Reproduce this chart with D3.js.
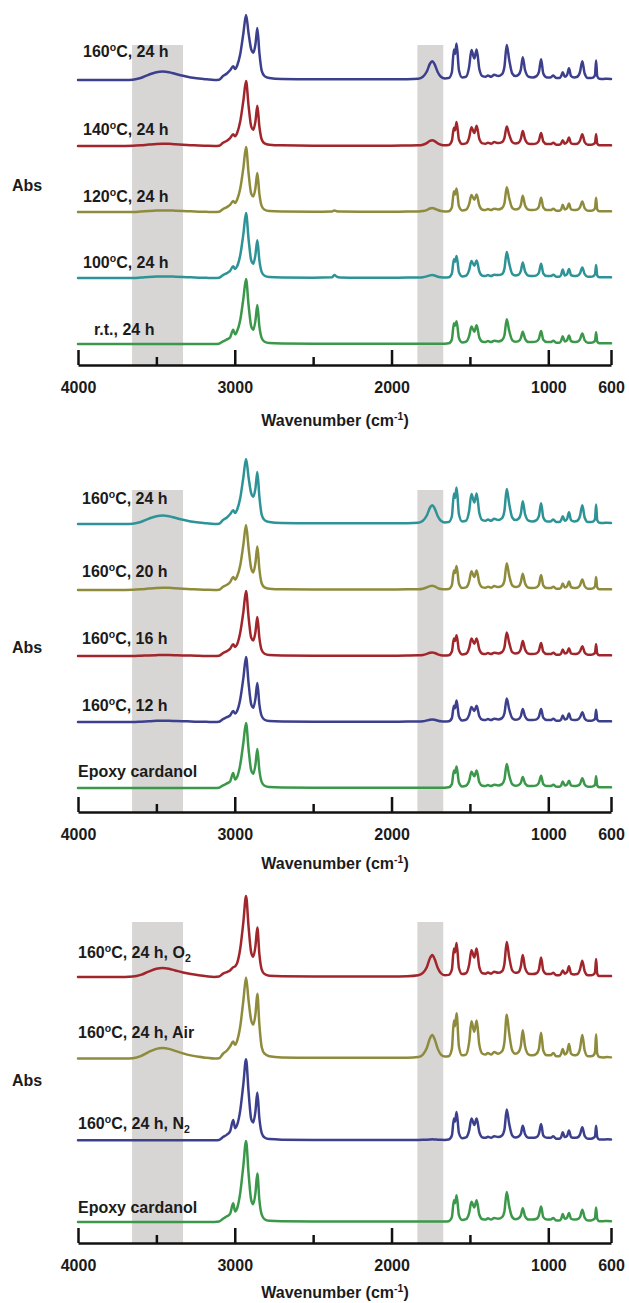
<!DOCTYPE html>
<html>
<head>
<meta charset="utf-8">
<script src="https://cdn.jsdelivr.net/npm/d3@7"></script>
<style>
  html, body { margin: 0; padding: 0; background: #ffffff; }
  svg text { font-family: "Liberation Sans", Arial, Helvetica, sans-serif; font-weight: bold; fill: #1b1b1b; }
</style>
</head>
<body>
<svg id="chart" width="629" height="1303"></svg>
<script>
// FTIR spectra of epoxy cardanol after heat treatment (stacked, offset traces)

// Wavenumber grid (cm-1) shared by every spectrum
const wavenumber = [
  4000, 3850, 3700, 3650, 3600, 3550, 3500, 3460, 3420, 3380,
  3330, 3280, 3230, 3180, 3130, 3100, 3075, 3050, 3030, 3010,
  2998, 2985, 2965, 2945, 2928, 2912, 2895, 2882, 2868, 2856,
  2843, 2828, 2810, 2780, 2700, 2500, 2380, 2365, 2350, 2330,
  2200, 2000, 1900, 1830, 1800, 1775, 1755, 1740, 1725, 1705,
  1685, 1660, 1635, 1615, 1602, 1595, 1585, 1570, 1550, 1525,
  1505, 1490, 1472, 1457, 1440, 1420, 1400, 1385, 1365, 1345,
  1320, 1295, 1280, 1265, 1250, 1230, 1210, 1190, 1175, 1163,
  1148, 1125, 1100, 1075, 1060, 1046, 1032, 1010, 985, 968,
  950, 930, 918, 908, 895, 880, 868, 855, 835, 815,
  798, 783, 768, 748, 728, 712, 702, 695, 688, 675,
  650, 625, 600
];

// Relative absorbance (C-H stretch at 2928 cm-1 = 1)
const abs160C24h = [
  0, 0, 0, 0.005, 0.03, 0.08, 0.12, 0.13, 0.12, 0.095,
  0.065, 0.04, 0.022, 0.01, 0, 0.005, 0.06, 0.1, 0.15, 0.21,
  0.17, 0.22, 0.4, 0.72, 1.0, 0.72, 0.47, 0.42, 0.55, 0.8,
  0.42, 0.14, 0.06, 0.03, 0.015, 0.01, 0.01, 0.01, 0.01, 0.01,
  0.01, 0.01, 0.012, 0.02, 0.05, 0.13, 0.25, 0.29, 0.24, 0.12,
  0.05, 0.025, 0.03, 0.12, 0.47, 0.4, 0.56, 0.15, 0.04, 0.05,
  0.2, 0.46, 0.33, 0.47, 0.17, 0.06, 0.05, 0.07, 0.05, 0.08,
  0.06, 0.09, 0.2, 0.54, 0.32, 0.1, 0.06, 0.08, 0.16, 0.35,
  0.15, 0.05, 0.04, 0.06, 0.12, 0.32, 0.1, 0.04, 0.04, 0.07,
  0.03, 0.03, 0.06, 0.12, 0.05, 0.08, 0.18, 0.06, 0.04, 0.05,
  0.12, 0.29, 0.1, 0.03, 0.03, 0.04, 0.08, 0.3, 0.06, 0.02,
  0.015, 0.02, 0.015
];

const abs140C24h = [
  0, 0, 0, 0.002, 0.01, 0.022, 0.032, 0.035, 0.033, 0.028,
  0.02, 0.013, 0.007, 0.003, 0, 0.005, 0.05, 0.08, 0.12, 0.18,
  0.15, 0.2, 0.38, 0.7, 1.0, 0.62, 0.3, 0.25, 0.38, 0.62,
  0.3, 0.1, 0.04, 0.02, 0.01, 0.005, 0.005, 0.005, 0.005, 0.005,
  0.005, 0.005, 0.008, 0.01, 0.02, 0.045, 0.08, 0.09, 0.075, 0.04,
  0.02, 0.01, 0.015, 0.08, 0.28, 0.24, 0.37, 0.1, 0.03, 0.04,
  0.13, 0.29, 0.2, 0.31, 0.11, 0.04, 0.035, 0.05, 0.035, 0.06,
  0.045, 0.06, 0.12, 0.3, 0.18, 0.06, 0.04, 0.05, 0.11, 0.23,
  0.1, 0.035, 0.03, 0.04, 0.08, 0.2, 0.07, 0.03, 0.03, 0.05,
  0.02, 0.02, 0.04, 0.09, 0.035, 0.06, 0.13, 0.04, 0.03, 0.035,
  0.08, 0.18, 0.06, 0.02, 0.02, 0.03, 0.05, 0.18, 0.04, 0.01,
  0.01, 0.012, 0.01
];

const abs120C24h = [
  0, 0, 0, 0, 0.007, 0.016, 0.023, 0.025, 0.024, 0.02,
  0.015, 0.01, 0.005, 0.002, 0, 0.005, 0.045, 0.075, 0.11, 0.17,
  0.14, 0.19, 0.36, 0.68, 1.0, 0.6, 0.28, 0.24, 0.37, 0.6,
  0.28, 0.09, 0.035, 0.015, 0.008, 0.005, 0.008, 0.025, 0.012, 0.006,
  0.005, 0.005, 0.006, 0.008, 0.015, 0.03, 0.055, 0.06, 0.05, 0.03,
  0.015, 0.008, 0.012, 0.07, 0.32, 0.27, 0.36, 0.09, 0.025, 0.035,
  0.12, 0.26, 0.19, 0.27, 0.1, 0.035, 0.03, 0.045, 0.03, 0.05,
  0.04, 0.06, 0.13, 0.38, 0.22, 0.065, 0.04, 0.05, 0.11, 0.25,
  0.1, 0.035, 0.03, 0.04, 0.08, 0.22, 0.07, 0.03, 0.03, 0.05,
  0.02, 0.02, 0.04, 0.11, 0.04, 0.06, 0.13, 0.04, 0.03, 0.035,
  0.07, 0.16, 0.06, 0.02, 0.02, 0.03, 0.06, 0.22, 0.04, 0.01,
  0.01, 0.012, 0.01
];

const abs100C24h = [
  0, 0, 0, 0, 0.006, 0.015, 0.022, 0.025, 0.024, 0.02,
  0.015, 0.01, 0.005, 0.002, 0, 0.005, 0.045, 0.075, 0.11, 0.18,
  0.14, 0.18, 0.35, 0.68, 1.0, 0.6, 0.27, 0.22, 0.36, 0.58,
  0.27, 0.09, 0.035, 0.015, 0.008, 0.005, 0.01, 0.045, 0.02, 0.008,
  0.005, 0.005, 0.006, 0.008, 0.012, 0.025, 0.04, 0.045, 0.038, 0.02,
  0.012, 0.008, 0.012, 0.07, 0.29, 0.25, 0.34, 0.09, 0.025, 0.035,
  0.12, 0.26, 0.19, 0.27, 0.1, 0.035, 0.03, 0.045, 0.03, 0.05,
  0.045, 0.06, 0.14, 0.4, 0.23, 0.065, 0.04, 0.05, 0.11, 0.24,
  0.1, 0.035, 0.03, 0.04, 0.08, 0.22, 0.07, 0.03, 0.03, 0.05,
  0.02, 0.02, 0.05, 0.13, 0.04, 0.06, 0.14, 0.045, 0.03, 0.035,
  0.07, 0.16, 0.06, 0.02, 0.02, 0.03, 0.06, 0.2, 0.04, 0.01,
  0.01, 0.012, 0.01
];

const absRoomTemp24h = [
  0, 0, 0, 0, 0, 0, 0, 0, 0, 0,
  0, 0, 0, 0, 0, 0.005, 0.04, 0.07, 0.1, 0.22,
  0.15, 0.2, 0.37, 0.7, 1.0, 0.6, 0.27, 0.22, 0.36, 0.6,
  0.27, 0.09, 0.035, 0.015, 0.008, 0.005, 0.005, 0.005, 0.005, 0.005,
  0.005, 0.005, 0.005, 0.005, 0.005, 0.005, 0.005, 0.005, 0.005, 0.005,
  0.005, 0.005, 0.01, 0.07, 0.32, 0.28, 0.35, 0.09, 0.025, 0.035,
  0.12, 0.27, 0.19, 0.29, 0.1, 0.035, 0.03, 0.045, 0.03, 0.05,
  0.04, 0.06, 0.13, 0.38, 0.21, 0.06, 0.035, 0.045, 0.09, 0.19,
  0.08, 0.03, 0.03, 0.04, 0.08, 0.2, 0.065, 0.03, 0.03, 0.05,
  0.02, 0.02, 0.05, 0.12, 0.04, 0.06, 0.13, 0.045, 0.03, 0.035,
  0.07, 0.16, 0.06, 0.02, 0.02, 0.03, 0.05, 0.18, 0.04, 0.01,
  0.01, 0.012, 0.01
];

const abs160C20h = [
  0, 0, 0, 0.002, 0.01, 0.022, 0.032, 0.035, 0.033, 0.028,
  0.02, 0.013, 0.007, 0.003, 0, 0.005, 0.05, 0.08, 0.12, 0.2,
  0.16, 0.21, 0.38, 0.7, 1.0, 0.65, 0.33, 0.27, 0.42, 0.67,
  0.32, 0.1, 0.04, 0.02, 0.01, 0.008, 0.008, 0.008, 0.008, 0.008,
  0.008, 0.008, 0.01, 0.012, 0.02, 0.04, 0.06, 0.065, 0.055, 0.03,
  0.015, 0.01, 0.015, 0.075, 0.3, 0.26, 0.37, 0.1, 0.03, 0.04,
  0.13, 0.29, 0.2, 0.3, 0.11, 0.04, 0.035, 0.05, 0.035, 0.06,
  0.045, 0.065, 0.14, 0.41, 0.23, 0.07, 0.045, 0.055, 0.12, 0.25,
  0.1, 0.035, 0.03, 0.04, 0.08, 0.23, 0.07, 0.03, 0.03, 0.05,
  0.02, 0.02, 0.04, 0.1, 0.04, 0.06, 0.13, 0.045, 0.03, 0.035,
  0.07, 0.16, 0.06, 0.02, 0.02, 0.03, 0.06, 0.2, 0.04, 0.01,
  0.01, 0.012, 0.01
];

const abs160C16h = [
  0, 0, 0, 0, 0.004, 0.009, 0.013, 0.015, 0.014, 0.012,
  0.009, 0.006, 0.003, 0.001, 0, 0.005, 0.045, 0.075, 0.11, 0.18,
  0.14, 0.18, 0.36, 0.68, 1.0, 0.6, 0.28, 0.24, 0.37, 0.6,
  0.28, 0.09, 0.035, 0.015, 0.008, 0.005, 0.005, 0.005, 0.005, 0.005,
  0.005, 0.005, 0.007, 0.01, 0.016, 0.032, 0.05, 0.055, 0.047, 0.026,
  0.013, 0.008, 0.012, 0.07, 0.27, 0.23, 0.32, 0.09, 0.025, 0.035,
  0.12, 0.27, 0.19, 0.27, 0.1, 0.035, 0.03, 0.045, 0.03, 0.05,
  0.04, 0.06, 0.13, 0.36, 0.21, 0.06, 0.04, 0.05, 0.11, 0.23,
  0.1, 0.035, 0.03, 0.04, 0.08, 0.2, 0.065, 0.03, 0.03, 0.05,
  0.02, 0.02, 0.04, 0.1, 0.04, 0.055, 0.12, 0.04, 0.03, 0.035,
  0.07, 0.15, 0.055, 0.02, 0.02, 0.03, 0.05, 0.18, 0.04, 0.01,
  0.01, 0.012, 0.01
];

const abs160C12h = [
  0, 0, 0, 0, 0.005, 0.012, 0.018, 0.02, 0.019, 0.016,
  0.012, 0.008, 0.004, 0.002, 0, 0.005, 0.045, 0.075, 0.1, 0.17,
  0.13, 0.17, 0.35, 0.68, 1.0, 0.6, 0.27, 0.22, 0.36, 0.6,
  0.27, 0.09, 0.035, 0.015, 0.008, 0.005, 0.005, 0.005, 0.005, 0.005,
  0.005, 0.005, 0.006, 0.008, 0.012, 0.024, 0.036, 0.04, 0.034, 0.02,
  0.01, 0.007, 0.01, 0.06, 0.25, 0.21, 0.33, 0.085, 0.025, 0.035,
  0.11, 0.23, 0.17, 0.25, 0.09, 0.035, 0.03, 0.045, 0.03, 0.05,
  0.04, 0.06, 0.13, 0.36, 0.2, 0.06, 0.035, 0.045, 0.09, 0.2,
  0.085, 0.03, 0.03, 0.04, 0.08, 0.2, 0.065, 0.03, 0.03, 0.05,
  0.02, 0.02, 0.04, 0.1, 0.04, 0.055, 0.13, 0.04, 0.03, 0.035,
  0.07, 0.15, 0.055, 0.02, 0.02, 0.03, 0.05, 0.19, 0.04, 0.01,
  0.01, 0.012, 0.01
];

const absEpoxyCardanol = [
  0, 0, 0, 0, 0, 0, 0, 0, 0, 0,
  0, 0, 0, 0, 0, 0.005, 0.04, 0.07, 0.1, 0.23,
  0.13, 0.17, 0.36, 0.7, 1.0, 0.6, 0.27, 0.22, 0.36, 0.6,
  0.27, 0.09, 0.035, 0.015, 0.008, 0.005, 0.005, 0.005, 0.005, 0.005,
  0.005, 0.005, 0.005, 0.005, 0.005, 0.005, 0.005, 0.005, 0.005, 0.005,
  0.005, 0.005, 0.01, 0.06, 0.27, 0.23, 0.33, 0.085, 0.025, 0.035,
  0.11, 0.25, 0.18, 0.27, 0.09, 0.035, 0.03, 0.045, 0.03, 0.05,
  0.04, 0.06, 0.13, 0.37, 0.2, 0.06, 0.035, 0.045, 0.08, 0.17,
  0.07, 0.03, 0.03, 0.04, 0.08, 0.19, 0.06, 0.03, 0.03, 0.05,
  0.02, 0.02, 0.04, 0.1, 0.04, 0.055, 0.11, 0.04, 0.03, 0.035,
  0.06, 0.15, 0.055, 0.02, 0.02, 0.03, 0.05, 0.18, 0.04, 0.01,
  0.01, 0.012, 0.01
];

const abs160C24hO2 = [
  0, 0, 0, 0.004, 0.025, 0.065, 0.1, 0.11, 0.1, 0.08,
  0.055, 0.035, 0.02, 0.008, 0, 0.005, 0.04, 0.06, 0.08, 0.12,
  0.13, 0.17, 0.35, 0.68, 1.0, 0.62, 0.3, 0.25, 0.38, 0.61,
  0.28, 0.09, 0.035, 0.015, 0.008, 0.005, 0.005, 0.005, 0.005, 0.005,
  0.005, 0.005, 0.008, 0.02, 0.05, 0.12, 0.23, 0.27, 0.22, 0.11,
  0.045, 0.02, 0.025, 0.09, 0.35, 0.3, 0.42, 0.11, 0.035, 0.045,
  0.15, 0.33, 0.24, 0.35, 0.12, 0.045, 0.04, 0.055, 0.04, 0.065,
  0.05, 0.07, 0.16, 0.43, 0.25, 0.08, 0.05, 0.06, 0.13, 0.27,
  0.11, 0.04, 0.035, 0.045, 0.09, 0.24, 0.08, 0.035, 0.035, 0.05,
  0.02, 0.02, 0.04, 0.08, 0.04, 0.06, 0.13, 0.04, 0.03, 0.035,
  0.09, 0.2, 0.07, 0.02, 0.02, 0.03, 0.06, 0.22, 0.04, 0.01,
  0.01, 0.012, 0.01
];

const abs160C24hN2 = [
  0, 0, 0, 0, 0, 0, 0, 0, 0, 0,
  0, 0, 0, 0, 0, 0.005, 0.04, 0.07, 0.11, 0.25,
  0.15, 0.19, 0.37, 0.7, 1.0, 0.6, 0.26, 0.22, 0.36, 0.59,
  0.27, 0.09, 0.035, 0.015, 0.008, 0.005, 0.005, 0.005, 0.005, 0.005,
  0.005, 0.005, 0.005, 0.005, 0.006, 0.008, 0.01, 0.012, 0.01, 0.008,
  0.006, 0.005, 0.01, 0.06, 0.27, 0.23, 0.35, 0.09, 0.025, 0.035,
  0.12, 0.27, 0.19, 0.27, 0.1, 0.035, 0.03, 0.045, 0.03, 0.05,
  0.04, 0.06, 0.13, 0.38, 0.21, 0.06, 0.035, 0.045, 0.08, 0.18,
  0.075, 0.03, 0.03, 0.04, 0.08, 0.2, 0.06, 0.03, 0.03, 0.05,
  0.02, 0.02, 0.04, 0.1, 0.04, 0.055, 0.12, 0.04, 0.03, 0.035,
  0.07, 0.16, 0.055, 0.02, 0.02, 0.03, 0.05, 0.18, 0.04, 0.01,
  0.01, 0.012, 0.01
];

// Shaded regions: O-H stretch and C=O stretch (cm-1)
const bandRanges = [[3655, 3330], [1835, 1670]];

// Axis ticks (cm-1)
const majorTicks = [4000, 3000, 2000, 1000, 600];
const minorTicks = [3500, 2500, 1500];

// Trace labels; ^x = superscript, _x = subscript, {} groups several characters
const labelsTemperature = ["160^oC, 24 h", "140^oC, 24 h", "120^oC, 24 h", "100^oC, 24 h", "r.t., 24 h"];
const labelsTime = ["160^oC, 24 h", "160^oC, 20 h", "160^oC, 16 h", "160^oC, 12 h", "Epoxy cardanol"];
const labelsAtmosphere = ["160^oC, 24 h, O_2", "160^oC, 24 h, Air", "160^oC, 24 h, N_2", "Epoxy cardanol"];
const axisTitle = "Wavenumber (cm^{-1})";
const yTitle = "Abs";

const colors = {
  navy: "#3c3f8c",
  red: "#a1262c",
  olive: "#8e8c3c",
  teal: "#2d9396",
  green: "#3b984a"
};

// Panel layout: label positions are [x, baseline y]
const panels = [
  {
    axisY: 365, bandTop: 45, bottomBase: 344, unit: 65, step: 66, titleY: 426, absY: 191,
    traces: [
      { values: abs160C24h, label: labelsTemperature[0], color: colors.navy, pos: [83, 57] },
      { values: abs140C24h, label: labelsTemperature[1], color: colors.red, pos: [83, 135] },
      { values: abs120C24h, label: labelsTemperature[2], color: colors.olive, pos: [83, 202] },
      { values: abs100C24h, label: labelsTemperature[3], color: colors.teal, pos: [83, 268] },
      { values: absRoomTemp24h, label: labelsTemperature[4], color: colors.green, pos: [94, 335] }
    ]
  },
  {
    axisY: 812, bandTop: 490, bottomBase: 788, unit: 65, step: 66, titleY: 869, absY: 653,
    traces: [
      { values: abs160C24h, label: labelsTime[0], color: colors.teal, pos: [82, 504] },
      { values: abs160C20h, label: labelsTime[1], color: colors.olive, pos: [82, 577] },
      { values: abs160C16h, label: labelsTime[2], color: colors.red, pos: [82, 644] },
      { values: abs160C12h, label: labelsTime[3], color: colors.navy, pos: [82, 711] },
      { values: absEpoxyCardanol, label: labelsTime[4], color: colors.green, pos: [78, 777] }
    ]
  },
  {
    axisY: 1243, bandTop: 922, bottomBase: 1222, unit: 81, step: 81.7, titleY: 1298, absY: 1086,
    traces: [
      { values: abs160C24hO2, label: labelsAtmosphere[0], color: colors.red, pos: [78, 958] },
      { values: abs160C24h, label: labelsAtmosphere[1], color: colors.olive, pos: [78, 1038] },
      { values: abs160C24hN2, label: labelsAtmosphere[2], color: colors.navy, pos: [78, 1129] },
      { values: absEpoxyCardanol, label: labelsAtmosphere[3], color: colors.green, pos: [78, 1213] }
    ]
  }
];

const svg = d3.select("#chart");
const FONT = 16;

const x = d3.scaleLinear().domain([4000, 600]).range([78, 611]);

// Write text with ^ (superscript) and _ (subscript) markup as tspans
function richText(sel, str) {
  const parts = [];
  let i = 0;
  while (i < str.length) {
    const c = str[i];
    if (c === "^" || c === "_") {
      let t;
      if (str[i + 1] === "{") {
        const end = str.indexOf("}", i + 2);
        t = str.slice(i + 2, end);
        i = end + 1;
      } else {
        t = str[i + 1];
        i += 2;
      }
      parts.push({ t, mode: c === "^" ? "sup" : "sub" });
    } else {
      let j = i;
      while (j < str.length && str[j] !== "^" && str[j] !== "_") j++;
      parts.push({ t: str.slice(i, j), mode: "normal" });
      i = j;
    }
  }
  let shift = 0;
  parts.forEach(p => {
    const target = p.mode === "sup" ? -6.5 : p.mode === "sub" ? 4 : 0;
    const ts = sel.append("tspan").attr("dy", target - shift).text(p.t);
    if (p.mode !== "normal") ts.attr("font-size", 10.5);
    shift = target;
  });
}

panels.forEach(p => {
  const g = svg.append("g");
  const y = d3.scaleLinear().domain([0, 1]).range([p.bottomBase, p.bottomBase - p.unit]);
  const n = p.traces.length;

  // shaded bands
  g.selectAll("rect.band")
    .data(bandRanges)
    .join("rect")
    .attr("class", "band")
    .attr("x", d => x(d[0]))
    .attr("width", d => x(d[1]) - x(d[0]))
    .attr("y", p.bandTop)
    .attr("height", p.axisY - p.bandTop)
    .attr("fill", "#d8d5d5");

  // spectra
  p.traces.forEach((tr, i) => {
    const offset = (n - 1 - i) * p.step / p.unit;
    const line = d3.line()
      .x((d, k) => x(wavenumber[k]))
      .y(d => y(d + offset))
      .curve(d3.curveMonotoneX);
    g.append("path")
      .datum(tr.values)
      .attr("d", line)
      .attr("fill", "none")
      .attr("stroke", tr.color)
      .attr("stroke-width", 2.5)
      .attr("stroke-linejoin", "round")
      .attr("stroke-linecap", "round");

    const t = g.append("text")
      .attr("x", tr.pos[0])
      .attr("y", tr.pos[1])
      .attr("font-size", FONT);
    richText(t, tr.label);
  });

  // minor ticks
  g.append("g")
    .attr("transform", `translate(0,${p.axisY})`)
    .call(d3.axisBottom(x).tickValues(minorTicks).tickSize(-8).tickFormat(""))
    .call(a => a.select(".domain").remove())
    .call(a => a.selectAll("line").attr("stroke", "#111").attr("stroke-width", 2.5));

  // major ticks, baseline and labels
  g.append("g")
    .attr("transform", `translate(0,${p.axisY})`)
    .call(d3.axisBottom(x).tickValues(majorTicks).tickSizeInner(-15).tickSizeOuter(0)
      .tickPadding(16.5).tickFormat(d3.format("d")))
    .call(a => a.select(".domain").attr("stroke", "#111").attr("stroke-width", 2.6))
    .call(a => a.selectAll("line").attr("stroke", "#111").attr("stroke-width", 2.5))
    .call(a => a.selectAll("text")
      .attr("font-size", FONT)
      .attr("font-family", "'Liberation Sans', Arial, sans-serif")
      .attr("font-weight", "bold")
      .attr("fill", "#1b1b1b"));

  // x axis title
  const tt = g.append("text")
    .attr("x", 335)
    .attr("y", p.titleY)
    .attr("text-anchor", "middle")
    .attr("font-size", FONT);
  richText(tt, axisTitle);

  // y axis title
  g.append("text")
    .attr("x", 12)
    .attr("y", p.absY)
    .attr("font-size", FONT)
    .text(yTitle);
});
</script>
</body>
</html>
